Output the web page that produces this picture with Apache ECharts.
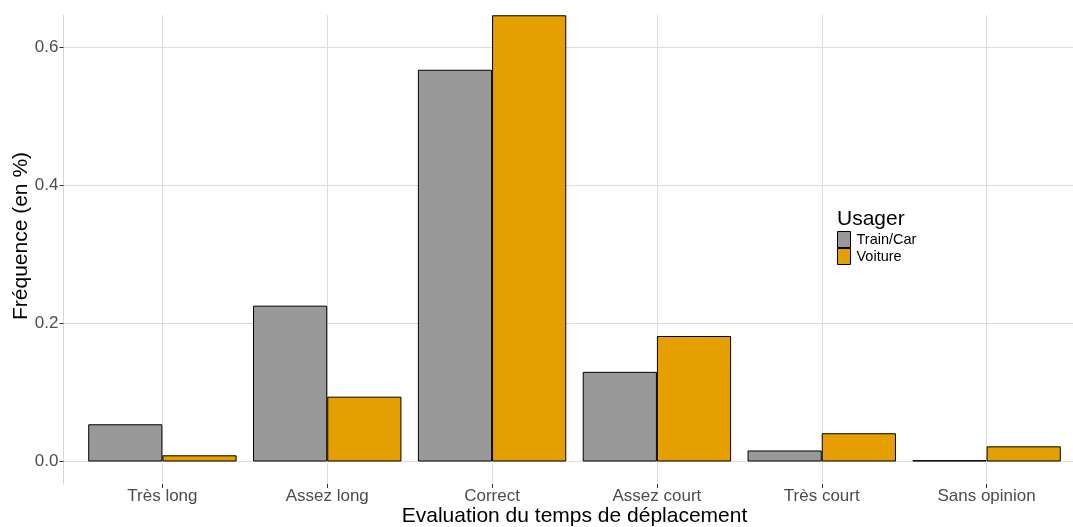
<!doctype html>
<html lang="fr">
<head>
    <meta charset="UTF-8">
    <title>Evaluation du temps de déplacement</title>
    <style>
        html, body { margin: 0; padding: 0; background: #fff; }
        #main { width: 1073px; height: 527px; }
    </style>
</head>
<body>
<div id="main"></div>
<script type="text/javascript" src="https://cdn.jsdelivr.net/npm/echarts@6/dist/echarts.min.js"></script>
<script type="text/javascript">
    // données
    let categories = ['Très long', 'Assez long', 'Correct', 'Assez court', 'Très court', 'Sans opinion'];
    let trainCar = [0.054, 0.226, 0.568, 0.130, 0.016, 0.002];
    let voiture = [0.009, 0.094, 0.647, 0.182, 0.041, 0.022];
    let yTicks = [0, 0.2, 0.4, 0.6];
    let xTicks = categories.map(function (c, i) { return i; });

    let font = 'Liberation Sans, Arial, sans-serif';
    let myChart = echarts.init(document.getElementById('main'));

    function toPoints(arr) {
        return arr.map(function (v, i) { return [i, v]; });
    }

    let option = {
        backgroundColor: '#ffffff',
        animation: false,
        // le panneau dépasse à droite, comme sur l'original
        grid: {left: 63.5, top: 15, width: 1022, bottom: 43, containLabel: false, outerBoundsMode: 'none'},
        legend: {
            orient: 'vertical',
            left: 837, top: 231,
            padding: 0,
            itemWidth: 13, itemHeight: 16, itemGap: 0,
            icon: 'rect',
            itemStyle: {borderColor: '#000', borderWidth: 1},
            textStyle: {fontFamily: font, fontSize: 14.5, color: '#000', padding: [0, 0, 0, 1]},
            data: ['Train/Car', 'Voiture']
        },
        graphic: [
            {type: 'text', left: 837, top: 209,
                style: {text: 'Usager', font: '21px ' + font, fill: '#000'}},
            {type: 'text', x: 21, y: 236, rotation: Math.PI / 2,
                style: {text: 'Fréquence (en %)', font: '21px ' + font, fill: '#000',
                    align: 'center', verticalAlign: 'middle'}}
        ],
        xAxis: {
            type: 'value',
            min: -0.6, max: 5.6,
            name: 'Evaluation du temps de déplacement',
            nameLocation: 'middle',
            nameGap: 22,
            nameMoveOverlap: false,
            nameTextStyle: {fontFamily: font, fontSize: 21, color: '#000'},
            axisLine: {show: false, onZero: false},
            axisTick: {show: true, length: 4, customValues: xTicks, lineStyle: {color: '#333'}},
            axisLabel: {
                customValues: xTicks, margin: 4,
                fontFamily: font, fontSize: 17, color: '#4d4d4d',
                formatter: function (v) { return categories[Math.round(v)]; }
            },
            splitLine: {show: true, customValues: xTicks, lineStyle: {color: '#dcdcdc', width: 1}}
        },
        yAxis: {
            type: 'value',
            min: -0.0326, max: 0.6474,
            axisLine: {show: true, onZero: false, lineStyle: {color: '#d6d6d6', width: 1}},
            axisTick: {show: true, length: 4, customValues: yTicks, lineStyle: {color: '#333'}},
            axisLabel: {
                customValues: yTicks, margin: 5,
                fontFamily: font, fontSize: 17, color: '#4d4d4d',
                formatter: function (v) { return v.toFixed(1); }
            },
            splitLine: {show: true, customValues: yTicks, lineStyle: {color: '#dcdcdc', width: 1}}
        },
        series: [
            {
                name: 'Train/Car', type: 'bar',
                barWidth: 74.2, barGap: '0%',
                itemStyle: {color: '#999999', borderColor: '#000', borderWidth: 1},
                data: toPoints(trainCar)
            },
            {
                name: 'Voiture', type: 'bar',
                barWidth: 74.2, barGap: '0%',
                itemStyle: {color: '#E69F00', borderColor: '#000', borderWidth: 1},
                data: toPoints(voiture)
            }
        ]
    };
    myChart.setOption(option, true);
</script>
</body>
</html>
